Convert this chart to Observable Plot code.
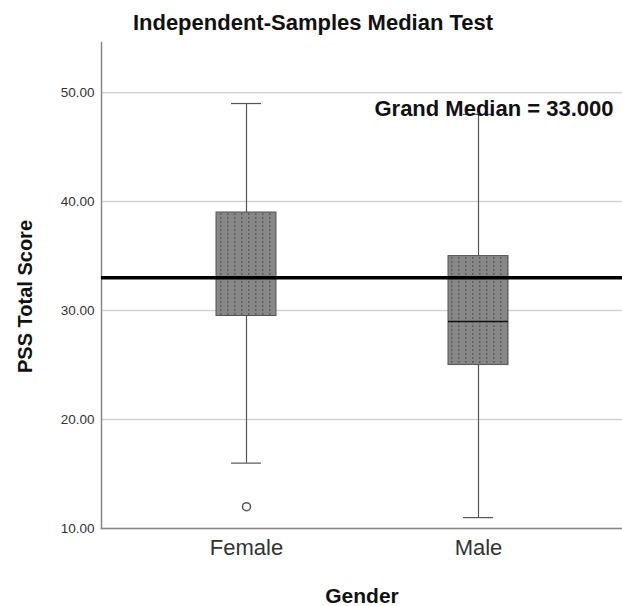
<!DOCTYPE html>
<html>
<head>
<meta charset="utf-8">
<script src="https://cdn.jsdelivr.net/npm/d3@7"></script>
<script src="https://cdn.jsdelivr.net/npm/@observablehq/plot@0.6"></script>
<style>
  html, body { margin: 0; padding: 0; background: #fff; overflow: hidden; }
  #chart { width: 622px; height: 606px; }
  svg { display: block; }
</style>
</head>
<body>
<div id="chart"></div>
<script>
const groups = ["Female", "Male"];
const q1 = [29.5, 25];
const q3 = [39, 35];
const medians = [33, 29];
const lowerWhisker = [16, 11];
const upperWhisker = [49, 48];
const outlierGroups = ["Female"];
const outlierValues = [12];
const grandMedian = 33;
const yTicks = [10, 20, 30, 40, 50];
const yTickLabels = ["10.00", "20.00", "30.00", "40.00", "50.00"];

const boxes = groups.map((g, i) => ({
  group: g, q1: q1[i], q3: q3[i], median: medians[i],
  lo: lowerWhisker[i], hi: upperWhisker[i]
}));
const outliers = outlierGroups.map((g, i) => ({group: g, value: outlierValues[i]}));

const font = "'Liberation Sans', Arial, sans-serif";

const chart = Plot.plot({
  width: 622,
  height: 606,
  marginLeft: 101,
  marginRight: 0,
  marginTop: 42,
  marginBottom: 78,
  style: {fontFamily: font, background: "#fff", color: "#333", maxWidth: "none"},
  x: {type: "band", domain: groups, paddingInner: 0.7425, paddingOuter: 0.4893, label: null},
  y: {domain: [10, 54.6], label: null},
  marks: [
    Plot.ruleY(yTicks, {stroke: "#d2d2d2", strokeWidth: 1.5}),
    Plot.frame({anchor: "left", stroke: "#888", strokeWidth: 1.5}),
    Plot.frame({anchor: "bottom", stroke: "#888", strokeWidth: 1.5}),
    Plot.axisY({ticks: yTicks, tickFormat: (d) => yTickLabels[yTicks.indexOf(d)], tickSize: 0, tickPadding: 7, fontSize: 13.5, label: null}),
    Plot.axisX({tickSize: 0, tickPadding: 11, fontSize: 22, label: null}),
    // whiskers
    Plot.ruleX(boxes, {x: "group", y1: "lo", y2: "q1", stroke: "#555", strokeWidth: 1.2}),
    Plot.ruleX(boxes, {x: "group", y1: "q3", y2: "hi", stroke: "#555", strokeWidth: 1.2}),
    Plot.tickY(boxes, {x: "group", y: "lo", stroke: "#555", strokeWidth: 1.2, insetLeft: 15, insetRight: 15}),
    Plot.tickY(boxes, {x: "group", y: "hi", stroke: "#555", strokeWidth: 1.2, insetLeft: 15, insetRight: 15}),
    // boxes
    Plot.barY(boxes, {x: "group", y1: "q1", y2: "q3", fill: "url(#pssDots)", stroke: "#555", strokeWidth: 1}),
    Plot.tickY(boxes, {x: "group", y: "median", stroke: "#111", strokeWidth: 1.5}),
    // outliers
    Plot.dot(outliers, {x: "group", y: "value", r: 4, stroke: "#555", strokeWidth: 1.5, fill: "#fff"}),
    // grand median
    Plot.ruleY([grandMedian], {stroke: "#000", strokeWidth: 3.5}),
    Plot.text(["Grand Median = 33.000"], {frameAnchor: "top-right", textAnchor: "end", lineAnchor: "middle", dx: -9, dy: 66, fontSize: 22, fontWeight: "bold", fill: "#111"}),
    // titles
    Plot.text(["Independent-Samples Median Test"], {frameAnchor: "top", textAnchor: "middle", lineAnchor: "middle", dx: -49, dy: -20, fontSize: 22, fontWeight: "bold", fill: "#111"}),
    Plot.text(["Gender"], {frameAnchor: "bottom", textAnchor: "middle", lineAnchor: "middle", dy: 68, fontSize: 21, fontWeight: "bold", fill: "#111"}),
    Plot.text(["PSS Total Score"], {frameAnchor: "left", textAnchor: "middle", lineAnchor: "middle", rotate: -90, dx: -76, dy: 11, fontSize: 20, fontWeight: "bold", fill: "#111"})
  ]
});

// pattern definition for the dotted box fill
const ns = "http://www.w3.org/2000/svg";
const defs = document.createElementNS(ns, "defs");
const pat = document.createElementNS(ns, "pattern");
pat.setAttribute("id", "pssDots");
pat.setAttribute("patternUnits", "userSpaceOnUse");
pat.setAttribute("width", "7");
pat.setAttribute("height", "4");
const bg = document.createElementNS(ns, "rect");
bg.setAttribute("width", "7"); bg.setAttribute("height", "4"); bg.setAttribute("fill", "#878787");
const dot = document.createElementNS(ns, "rect");
dot.setAttribute("x", "3"); dot.setAttribute("y", "1"); dot.setAttribute("width", "1.5"); dot.setAttribute("height", "2"); dot.setAttribute("fill", "#5f5f5f");
pat.appendChild(bg); pat.appendChild(dot);
defs.appendChild(pat);
chart.insertBefore(defs, chart.firstChild);

document.getElementById("chart").appendChild(chart);
</script>
</body>
</html>
